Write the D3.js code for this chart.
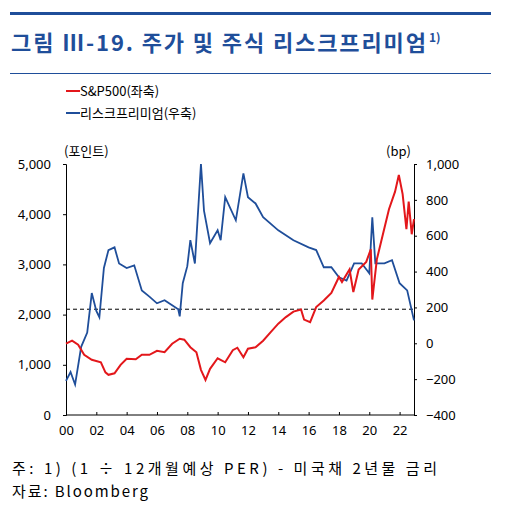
<!DOCTYPE html>
<html><head><meta charset="utf-8">
<script src="https://cdn.jsdelivr.net/npm/d3@7"></script>
<style>body{margin:0;background:#fff}text{font-family:"Noto Sans CJK KR","Noto Sans",sans-serif}</style>
</head><body><svg id="c" width="506" height="515"></svg>
<script>
// S&P500 (left axis, points)
const spx = [[2000,1420],[2000.4,1480],[2000.8,1400],[2001.2,1200],[2001.7,1100],[2002.3,1050],[2002.6,850],[2002.8,800],[2003.2,830],[2003.6,1000],[2004,1120],[2004.6,1110],[2005,1200],[2005.5,1200],[2006,1280],[2006.5,1250],[2007,1420],[2007.5,1520],[2007.8,1500],[2008.2,1350],[2008.6,1250],[2008.9,900],[2009.2,700],[2009.5,920],[2010,1130],[2010.5,1050],[2011,1290],[2011.3,1340],[2011.7,1150],[2012,1320],[2012.5,1350],[2013,1480],[2013.5,1650],[2014,1820],[2014.5,1950],[2015,2060],[2015.5,2100],[2015.7,1900],[2016.1,1850],[2016.5,2150],[2017,2280],[2017.5,2430],[2018,2750],[2018.2,2650],[2018.7,2900],[2018.95,2450],[2019.3,2900],[2019.8,3050],[2020.1,3300],[2020.2,2300],[2020.5,3100],[2020.9,3600],[2021.3,4100],[2021.7,4450],[2021.95,4780],[2022.2,4400],[2022.45,3700],[2022.6,4250],[2022.8,3600],[2022.95,3900]];
// risk premium (right axis, bp)
const erp = [[2000,-210],[2000.3,-160],[2000.6,-230],[2001,-20],[2001.4,60],[2001.7,280],[2002,180],[2002.2,145],[2002.5,420],[2002.8,520],[2003.2,535],[2003.5,445],[2004,420],[2004.5,435],[2005,295],[2005.5,260],[2006,223],[2006.5,240],[2007,212],[2007.4,190],[2007.5,150],[2007.7,335],[2008,430],[2008.2,575],[2008.5,445],[2008.9,1000],[2009.1,740],[2009.5,558],[2010,630],[2010.2,575],[2010.5,815],[2011.2,686],[2011.7,948],[2012,815],[2012.5,780],[2013,703],[2014,630],[2015,575],[2016,535],[2016.5,520],[2017,424],[2017.5,424],[2018,368],[2018.5,350],[2019,446],[2019.5,446],[2020,390],[2020.2,703],[2020.4,446],[2021,446],[2021.5,463],[2022,335],[2022.5,295],[2022.95,128]];
const leftTicks = [0,1000,2000,3000,4000,5000];
const rightTicks = [-400,-200,0,200,400,600,800,1000];
const yearTicks = [2000,2002,2004,2006,2008,2010,2012,2014,2016,2018,2020,2022];
const dashedBp = 190;

const svg = d3.select("#c");
const x = d3.scaleLinear().domain([2000,2022.95]).range([66,414]);
const yL = d3.scaleLinear().domain([0,5000]).range([415,164]);
const yR = d3.scaleLinear().domain([-400,1000]).range([415,164]);
const blue = "#1f4e9a";

// header
svg.append("rect").attr("x",10).attr("y",12).attr("width",481).attr("height",3).attr("fill",blue);
svg.append("rect").attr("x",10).attr("y",73).attr("width",481).attr("height",1).attr("fill",blue);
svg.append("text").attr("x",11).attr("y",51).attr("fill",blue).attr("font-size",22).attr("font-weight",700)
  .attr("textLength",415).attr("lengthAdjust","spacing").text("그림 Ⅲ-19. 주가 및 주식 리스크프리미엄");
svg.append("text").attr("x",429).attr("y",42).attr("fill",blue).attr("font-size",12).attr("font-weight",700).text("1)");

// legend
const lg = [["S&P500(좌축)","#e3171b",96],["리스크프리미엄(우축)",blue,118]];
lg.forEach(([l,c,yy])=>{
  svg.append("line").attr("x1",66).attr("x2",80).attr("y1",yy-5).attr("y2",yy-5).attr("stroke",c).attr("stroke-width",2);
  svg.append("text").attr("x",80).attr("y",yy).attr("font-size",13).text(l);
});
svg.append("text").attr("x",64).attr("y",156).attr("font-size",13).text("(포인트)");
svg.append("text").attr("x",386).attr("y",156).attr("font-size",13).text("(bp)");

// axes
const gl = svg.append("g").attr("transform","translate(66,0)")
  .call(d3.axisLeft(yL).tickValues(leftTicks).tickSize(3).tickFormat(d3.format(",")));
const gr = svg.append("g").attr("transform","translate(414,0)")
  .call(d3.axisRight(yR).tickValues(rightTicks).tickSize(3).tickFormat(d3.format(",")));
const gx = svg.append("g").attr("transform","translate(0,415)")
  .call(d3.axisBottom(x).tickValues(yearTicks).tickSize(-3).tickFormat(d=>String(d%100).padStart(2,"0")));
[gl,gr,gx].forEach(g=>{g.selectAll("path,line").attr("stroke","#000");g.selectAll("text").attr("font-size",13).attr("fill","#000").style("font-family","'Noto Sans',sans-serif");});
gl.selectAll("text").attr("x",-15);
gr.selectAll("text").attr("x",12);
gx.selectAll("text").attr("y",11);
gx.select(".domain").remove();
svg.append("line").attr("x1",66).attr("x2",414).attr("y1",415).attr("y2",415).attr("stroke","#000");

// dashed reference
svg.append("line").attr("x1",66).attr("x2",414).attr("y1",yR(dashedBp)).attr("y2",yR(dashedBp)).attr("stroke","#000").attr("stroke-dasharray","4,3");

const line = (ys)=>d3.line().x(d=>x(d[0])).y(d=>ys(d[1]));
svg.append("path").datum(erp).attr("d",line(yR)).attr("fill","none").attr("stroke",blue).attr("stroke-width",1.8);
svg.append("path").datum(spx).attr("d",line(yL)).attr("fill","none").attr("stroke","#e3171b").attr("stroke-width",2);

// footnote
svg.append("text").attr("x",12).attr("y",474).attr("font-size",15).attr("textLength",425).attr("lengthAdjust","spacing").text("주: 1) (1 ÷ 12개월예상 PER) - 미국채 2년물 금리");
svg.append("text").attr("x",12).attr("y",497).attr("font-size",15).attr("textLength",136).attr("lengthAdjust","spacing").text("자료: Bloomberg");
</script></body></html>
